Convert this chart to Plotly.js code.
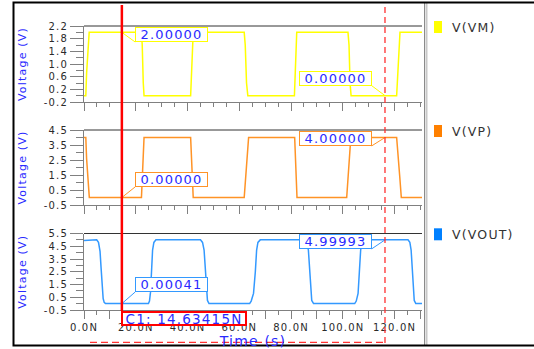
<!DOCTYPE html>
<html><head><meta charset="utf-8">
<script src="https://cdn.plot.ly/plotly-3.0.1.min.js"></script>
<style>
html,body{margin:0;padding:0;background:#fff;}
#chart{width:534px;height:349px;}
svg text{letter-spacing:1.2px;}
</style></head><body><div id="chart"></div>
<script>
// ---------------- data ----------------
const seriesNames = ['V(VM)', 'V(VP)', 'V(VOUT)'];
const tVM = [0, 0.7, 1.0, 1.4, 2.0, 22.2, 22.5, 22.9, 23.2, 41.2, 41.5, 41.9, 42.2, 61.9, 62.3, 62.8, 63.3, 81.3, 81.6, 81.9, 82.2, 102.0, 102.4, 102.8, 103.2, 120.8, 121.2, 121.7, 122.1, 130.6];
const vVM = [0, 0, 0.7, 1.3, 2.0, 2.0, 1.6, 0.4, 0, 0, 0.7, 1.3, 2.0, 2.0, 1.6, 0.4, 0, 0, 0.7, 1.3, 2.0, 2.0, 1.6, 0.4, 0, 0, 0.7, 1.3, 2.0, 2.0];
const tVP = [0, 0.7, 1.0, 1.5, 2.05, 22.2, 22.5, 22.9, 23.2, 41.2, 41.5, 41.9, 42.2, 61.9, 62.4, 63.0, 63.6, 81.4, 81.7, 82.0, 82.3, 101.5, 102.0, 102.6, 103.1, 120.8, 121.3, 122.0, 122.6, 130.6];
const vVP = [4, 4, 2.6, 1.4, 0, 0, 1.4, 3.2, 4, 4, 2.6, 1.4, 0, 0, 1.4, 2.6, 4, 4, 2.6, 1.4, 0, 0, 1.4, 2.6, 4, 4, 2.6, 1.4, 0, 0];
const tVOUT = [0, 4.3, 4.9, 5.6, 6.2, 6.6, 7.0, 7.4, 7.8, 8.3,
  24.9, 25.3, 25.7, 26.1, 26.5, 27.0, 27.8,
  45.0, 45.8, 46.4, 46.9, 47.3, 47.7, 48.3,
  64.0, 64.6, 65.5, 66.2, 66.7, 67.2, 68.1,
  85.2, 86.1, 86.7, 87.2, 87.6, 88.0, 88.7,
  104.6, 105.2, 105.9, 106.4, 106.9, 107.4, 108.2,
  125.2, 125.9, 126.4, 126.8, 127.2, 127.6, 128.2, 130.6];
const vVOUT = [4.95, 4.96, 5.0, 4.8, 4.1, 2.8, 1.2, 0.4, 0.1, 0.0004,
  0.0004, 0.2, 0.9, 2.6, 4.2, 4.8, 5.0,
  5.0, 4.8, 4.2, 2.6, 0.9, 0.25, 0.0004,
  0.0004, 0.2, 0.8, 2.5, 4.2, 4.8, 5.0,
  5.0, 4.8, 4.2, 2.6, 0.9, 0.25, 0.0004,
  0.0004, 0.2, 0.8, 2.5, 4.2, 4.8, 5.0,
  5.0, 4.8, 4.2, 2.6, 0.9, 0.25, 0.0004, 0.0004];
const cursorTimes = [14.63415, 116.3];
const markC1 = [2.0, 0.0, 0.00041];
const markC2 = [0.0, 4.0, 4.99993];
const xTickVals = [0, 10, 20, 30, 40, 50, 60, 70, 80, 90, 100, 110, 120, 130];
const xTickText = ['0.0N', '', '20.0N', '', '40.0N', '', '60.0N', '', '80.0N', '', '100.0N', '', '120.0N', ''];
const yTickVals1 = [-0.2, 0.2, 0.6, 1.0, 1.4, 1.8, 2.2];
const yTickText1 = ['-0.2', '0.2', '0.6', '1.0', '1.4', '1.8', '2.2'];
const yTickVals2 = [-0.5, 0.5, 1.5, 2.5, 3.5, 4.5];
const yTickText2 = ['-0.5', '0.5', '1.5', '2.5', '3.5', '4.5'];
const yTickVals3 = [-0.5, 0.5, 1.5, 2.5, 3.5, 4.5, 5.5];
const yTickText3 = ['-0.5', '0.5', '1.5', '2.5', '3.5', '4.5', '5.5'];

// ---------------- layout helpers ----------------
const W = 534, H = 349, L = 84, R = 422, T = 26, B = 310;
const pw = R - L, ph = B - T;
const fx = px => (px - L) / pw;
const fy = py => (B - py) / ph;
const lineColors = ['#ffff00', '#ff9326', '#3399ff'];
const swatchColors = ['#ffff00', '#ff8000', '#0080ff'];
const blue = '#2a2aff';
const FONT = 'DejaVu Sans';
const axGrey = '#808080';

const domains = [[fy(102), 1], [fy(205), fy(130)], [0, fy(233.5)]];
const ranges = [[-0.2, 2.2], [-0.5, 4.5], [-0.5, 5.5]];
const yTV = [yTickVals1, yTickVals2, yTickVals3];
const yTT = [yTickText1, yTickText2, yTickText3];
const minorD = [0.2, 0.5, 0.5];
const tArr = [tVM, tVP, tVOUT];
const vArr = [vVM, vVP, vVOUT];

const traces = [];
const layout = {
  width: W, height: H, autosize: false,
  margin: {l: L, r: W - R, t: T, b: H - B, pad: 0},
  paper_bgcolor: '#fff', plot_bgcolor: '#fff',
  showlegend: false,
  font: {family: FONT, size: 10, color: '#333'},
  shapes: [], annotations: []
};

for (let i = 0; i < 3; i++) {
  const s = i === 0 ? '' : String(i + 1);
  traces.push({
    type: 'scatter', mode: 'lines', name: seriesNames[i],
    x: tArr[i], y: vArr[i], xaxis: 'x' + s, yaxis: 'y' + s,
    line: {color: lineColors[i], width: 1.5}, hoverinfo: 'skip'
  });
  layout['xaxis' + s] = {
    domain: [0, 1], anchor: 'y' + s, range: [0, 130.6],
    showline: true, linecolor: axGrey, linewidth: 1,
    ticks: 'outside', ticklen: 8, tickcolor: axGrey, tickwidth: 1,
    tickmode: 'array', tickvals: xTickVals, ticktext: xTickText,
    showticklabels: i === 2, showgrid: false, zeroline: false,
    tickfont: {family: FONT, size: 10, color: '#2a2a2a'},
    minor: {dtick: 5, tick0: 0, ticks: 'outside', ticklen: 4, tickcolor: axGrey, showgrid: false},
    fixedrange: true
  };
  if (i === 2) {
    layout['xaxis' + s].title = {text: 'Time (s)', font: {family: FONT, size: 14, color: blue}, standoff: 0};
  }
  layout['yaxis' + s] = {
    domain: domains[i], anchor: 'x' + s, range: ranges[i],
    showline: true, linecolor: axGrey, linewidth: 1,
    ticks: 'outside', ticklen: 13, tickcolor: axGrey, tickwidth: 1,
    tickmode: 'array', tickvals: yTV[i], ticktext: yTT[i],
    showgrid: false, zeroline: false,
    tickfont: {family: FONT, size: 10, color: '#2a2a2a'},
    minor: {dtick: minorD[i], tick0: ranges[i][0], ticks: 'outside', ticklen: 7, tickcolor: axGrey, showgrid: false},
    title: {text: 'Voltage (V)', font: {family: FONT, size: 11, color: blue}, standoff: 14},
    fixedrange: true
  };
  // top border line of each panel
  layout.shapes.push({type: 'line', xref: 'paper', yref: 'paper', x0: 0, x1: 1, y0: domains[i][1], y1: domains[i][1],
    line: {color: '#333', width: 1}});
  // legend swatch + text
  const legTop = [21, 125, 228.3][i];
  layout.shapes.push({type: 'rect', xref: 'paper', yref: 'paper', x0: fx(434), x1: fx(442), y0: fy(legTop + 12), y1: fy(legTop),
    line: {width: 0}, fillcolor: swatchColors[i]});
  layout.annotations.push({xref: 'paper', yref: 'paper', x: fx(450), y: fy(legTop + 6.5), xanchor: 'left', yanchor: 'middle',
    text: seriesNames[i], showarrow: false, font: {family: FONT, size: 12.5, color: '#333'}});

  // cursor markers
  const marks = [[cursorTimes[0], markC1[i], 1, [-9.7, 10.6, 11.6][i]], [cursorTimes[1], markC2[i], -1, [10, -8.4, -9][i]]];
  marks.forEach(m => {
    const [tx, val, dir, dy] = m;
    layout.annotations.push({
      xref: 'x' + s, yref: 'y' + s, x: tx, y: val,
      xanchor: dir > 0 ? 'left' : 'right', yanchor: 'bottom',
      xshift: 13.3 * dir, yshift: dy,
      text: val.toFixed(5), showarrow: false,
      width: 71, height: 13, borderpad: 0, borderwidth: 1,
      bordercolor: lineColors[i], bgcolor: '#fff',
      font: {family: FONT, size: 13, color: blue}
    });
    layout.shapes.push({
      type: 'line', xref: 'x' + s, yref: 'y' + s,
      xsizemode: 'pixel', ysizemode: 'pixel', xanchor: tx, yanchor: val,
      x0: 0, y0: 0, x1: 13.3 * dir, y1: dy,
      line: {color: lineColors[i], width: 1}
    });
  });
}

// cursor lines
layout.shapes.push({type: 'line', xref: 'x3', yref: 'paper', x0: cursorTimes[0], x1: cursorTimes[0], y0: fy(311), y1: fy(5),
  line: {color: '#ff0000', width: 2.5}});
layout.shapes.push({type: 'line', xref: 'x3', yref: 'paper', x0: cursorTimes[1], x1: cursorTimes[1], y0: fy(343), y1: fy(5),
  line: {color: '#ff3030', width: 1.3, dash: '6px,4px'}});
layout.shapes.push({type: 'line', xref: 'paper', yref: 'paper', x0: fx(90), x1: fx(385), y0: fy(342.3), y1: fy(342.3),
  line: {color: '#ff3030', width: 1.3, dash: '7px,4px'}});
// C1 label
layout.annotations.push({
  xref: 'x3', yref: 'paper', x: cursorTimes[0], y: fy(311), xanchor: 'left', yanchor: 'top', xshift: -1,
  text: 'C1: ' + cursorTimes[0].toFixed(5) + 'N', showarrow: false,
  width: 122, height: 11, borderpad: 0, borderwidth: 2, bordercolor: '#ff0000', bgcolor: '#fff',
  font: {family: FONT, size: 13.5, color: blue}
});
// separator and outer frame
layout.shapes.push({type: 'line', xref: 'paper', yref: 'paper', x0: fx(424.5), x1: fx(424.5), y0: fy(346), y1: fy(3),
  line: {color: '#8a8a8a', width: 1}});
layout.shapes.push({type: 'line', xref: 'paper', yref: 'paper', x0: fx(426.5), x1: fx(426.5), y0: fy(346), y1: fy(3),
  line: {color: '#c8c8c8', width: 2}});
layout.shapes.push({type: 'rect', xref: 'paper', yref: 'paper', x0: fx(13.5), x1: fx(545), y0: fy(345.5), y1: fy(2.5),
  line: {color: '#000', width: 2}, fillcolor: 'rgba(0,0,0,0)'});

Plotly.newPlot('chart', traces, layout, {displayModeBar: false, staticPlot: true});
</script></body></html>
